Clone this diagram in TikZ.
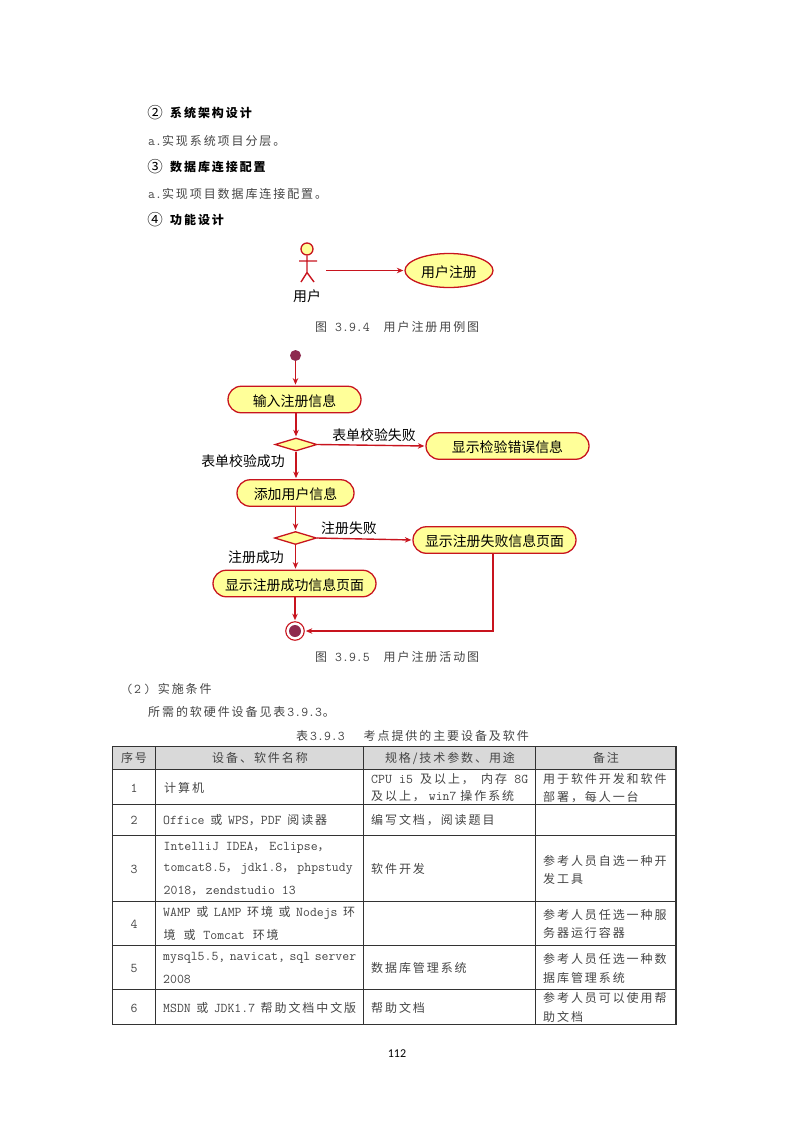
\documentclass[tikz,border=0pt]{standalone}
\usepackage{fontspec}
\setmainfont{Noto Sans CJK SC}
\newfontfamily\cjsp[LetterSpace=16]{Noto Sans CJK SC}
\newfontfamily\cjsy{Noto Sans CJK SC}
\newfontfamily\pgnum{Carlito}
\usetikzlibrary{arrows.meta,shapes.geometric,shapes.misc}
\definecolor{umlred}{HTML}{C8141E}
\definecolor{umlfill}{HTML}{FFFF99}
\definecolor{umldot}{HTML}{8E2A4E}
\definecolor{bodytx}{HTML}{444444}
\definecolor{headfill}{HTML}{D9D9D9}
\definecolor{tblline}{HTML}{333333}
\newcommand{\lat}[1]{{\fontsize{13.4}{16}\selectfont\ttfamily #1}}
\newcommand{\sq}[2]{\makebox[#1pt][s]{#2}}
\newcommand{\dn}[1]{\raisebox{-6.8pt}[0pt][0pt]{#1}}
\tikzset{
  x=1pt,y=-1pt,
  body/.style={font=\fontsize{12}{14}\selectfont\cjsp,text=bodytx,inner sep=0pt,anchor=west},
  bodyc/.style={body,anchor=center},
  head/.style={font=\fontsize{12}{14}\selectfont\bfseries\cjsp,text=black,inner sep=0pt,anchor=west},
  num/.style={font=\fontsize{15.5}{16}\selectfont\cjsy,text=black,inner sep=0pt},
  dlabel/.style={font=\fontsize{13.9}{16}\selectfont\cjsy,text=black,inner sep=0pt},
  umlbase/.style={draw=umlred,fill=umlfill,line width=1.3pt,inner sep=0pt,font=\fontsize{13.9}{16}\selectfont\cjsy,text=black},
  usecase/.style={umlbase,ellipse,minimum width=88pt,minimum height=34pt},
  activity/.style={umlbase,rounded rectangle,minimum height=26.5pt},
  decision/.style={umlbase,diamond,aspect=3.2,minimum width=42pt,minimum height=13pt},
  flow/.style={draw=umlred,line width=1.4pt,-{Stealth[length=6.5pt,width=5.5pt]},shorten >=1pt},
  grid/.style={draw=tblline,line width=1pt},
  gridthick/.style={draw=tblline,line width=1.4pt},
}
\begin{document}
\begin{tikzpicture}
\useasboundingbox (0,0) rectangle (793,1122);

% headings and body text
\node[num] (n2) at (155,113) {②};
\node[head] (h2) at (170,113) {系统架构设计};
\node[body] (a2) at (148,141) {\lat{a.}实现系统项目分层。};
\node[num] (n3) at (155,166.5) {③};
\node[head] (h3) at (170,166.5) {数据库连接配置};
\node[body] (a3) at (148,194) {\lat{a.}实现项目数据库连接配置。};
\node[num] (n4) at (155,220) {④};
\node[head] (h4) at (170,220) {功能设计};

% use case diagram
\node[circle,draw=umlred,fill=umlfill,line width=1.3pt,minimum size=12pt,inner sep=0pt] (ahead) at (307,249) {};
\coordinate (ahip) at (307,272.5);
\coordinate (aarml) at (299,261);
\coordinate (aarmr) at (317,261);
\coordinate (alegl) at (301,282);
\coordinate (alegr) at (314,282);
\coordinate (aout) at (326,270.5);
\draw[umlred,line width=1.4pt] (ahead.south) -- (ahip) (aarml) -- (aarmr) (alegl) -- (ahip) -- (alegr);
\node[dlabel] (alabel) at (307,296) {用户};
\node[usecase] (uc) at (449,270.5) {\dn{用户注册}};
\draw[flow] (aout) -- (uc.west);
\node[body] (cap4) at (315,327) {图\hspace{8pt}\lat{3.9.4}\hspace{14pt}用户注册用例图};

% activity diagram
\node[circle,fill=umldot,minimum size=11pt,inner sep=0pt] (start) at (295.5,355.5) {};
\node[activity,minimum width=133pt] (a1) at (294.5,399.5) {\dn{输入注册信息}};
\node[decision] (d1) at (296,444.5) {};
\node[activity,minimum width=163pt] (a2n) at (507.5,446) {\dn{显示检验错误信息}};
\node[activity,minimum width=117pt] (a3n) at (295.5,493) {\dn{添加用户信息}};
\node[decision] (d2) at (295.5,538) {};
\node[activity,minimum width=163pt] (a4n) at (494.5,540) {\dn{显示注册失败信息页面}};
\node[activity,minimum width=163pt] (a5n) at (294.5,583.5) {\dn{显示注册成功信息页面}};
\node[circle,draw=umlred,line width=1.1pt,fill=white,minimum size=18.5pt,inner sep=0pt] (end) at (295,631) {};
\node[circle,fill=umldot,minimum size=12pt,inner sep=0pt] (endin) at (end.center) {};
\node[dlabel] (l1) at (374,435) {表单校验失败};
\node[dlabel] (l2) at (243,461) {表单校验成功};
\node[dlabel] (l3) at (349,528) {注册失败};
\node[dlabel] (l4) at (256,557) {注册成功};
\draw[flow] (start) -- (a1.north -| start);
\draw[flow] (a1.south -| d1) -- (d1.north);
\draw[flow] (d1.east) -- (a2n.west);
\draw[flow] (d1.south) -- (a3n.north -| d1);
\draw[flow] (a3n.south) -- (d2.north);
\draw[flow] (d2.east) -- (a4n.west);
\draw[flow] (d2.south) -- (a5n.north -| d2);
\draw[flow] (a5n.south -| end) -- (end.north);
\draw[flow] (a4n.south -| 493,0) |- (end.east);
\node[body] (cap5) at (315,657) {图\hspace{8pt}\lat{3.9.5}\hspace{14pt}用户注册活动图};

% section text
\node[body] (s2) at (126,689) {\lat{(}\hspace{1pt}\lat{2}\hspace{3pt}\lat{)}\hspace{7pt}实施条件};
\node[body] (s3) at (148,712) {所需的软硬件设备见表\hspace{2pt}\lat{3.9.3}\hspace{1pt}。};
\node[body] (tcap) at (296,736) {表\hspace{2pt}\lat{3.9.3}\hspace{19pt}考点提供的主要设备及软件};

% table
\fill[headfill] (112.5,746.7) rectangle (676,769.3);
\foreach \yy in {769.3,804.3,835.7,901.7,945.7,989.7}
  \draw[grid] (112.5,\yy) -- (676,\yy);
\foreach \xx in {155.7,363.7,535.3}
  \draw[gridthick] (\xx,746.7) -- (\xx,1024.7);
\draw[gridthick] (112.5,746.7) rectangle (676,1024.7);

\node[bodyc] (t01) at (134,758) {序号};
\node[bodyc] (t02) at (260,758) {设备、软件名称};
\node[bodyc] (t03) at (450,758) {规格/技术参数、用途};
\node[bodyc] (t04) at (606,758) {备注};

\node[bodyc] (t11) at (134,788) {\lat{1}};
\node[body] (t12) at (164,788) {计算机};
\node[body] (t13a) at (371,779) {\sq{157}{\lat{CPU}\hfil\lat{i5}\hfil 及以上，\hfil 内存\hfil\lat{8G}}};
\node[body] (t13b) at (371,796.5) {\sq{143}{及以上，\hfil\lat{win7}\hfil 操作系统}};
\node[body] (t14a) at (543,778.5) {用于软件开发和软件};
\node[body] (t14b) at (543,797) {部署，每人一台};

\node[bodyc] (t21) at (134,820) {\lat{2}};
\node[body] (t22) at (163,820) {\sq{164}{\lat{Office}\hfil 或\hfil\lat{WPS}，\lat{PDF}\hfil 阅读器}};
\node[body] (t23) at (371,820) {编写文档，阅读题目};

\node[bodyc] (t31) at (134,869) {\lat{3}};
\node[body] (t32a) at (163.5,848) {\sq{166}{\lat{IntelliJ IDEA}，\hfil\lat{Eclipse}，}};
\node[body] (t32b) at (163.5,869) {\sq{189}{\lat{tomcat8.5}，\hfil\lat{jdk1.8}，\hfil\lat{phpstudy}}};
\node[body] (t32c) at (163.5,891) {\sq{132}{\lat{2018}，\hfil\lat{zendstudio 13}}};
\node[body] (t33) at (371,869) {软件开发};
\node[body] (t34a) at (543,861) {参考人员自选一种开};
\node[body] (t34b) at (543,879) {发工具};

\node[bodyc] (t41) at (134,924) {\lat{4}};
\node[body] (t42a) at (163,913) {\sq{192}{\lat{WAMP}\hfil 或\hfil\lat{LAMP}\hfil 环境\hfil 或\hfil\lat{Nodejs}\hfil 环}};
\node[body] (t42b) at (163.5,935) {\sq{115}{境\hfil 或\hfil\lat{Tomcat}\hfil 环境}};
\node[body] (t44a) at (543,915) {参考人员任选一种服};
\node[body] (t44b) at (543,933) {务器运行容器};

\node[bodyc] (t51) at (134,968) {\lat{5}};
\node[body] (t52a) at (163,958) {\sq{193}{\lat{mysql5.5,}\hfil\lat{navicat,}\hfil\lat{sql}\hfil\lat{server}}};
\node[body] (t52b) at (163,979) {\lat{2008}};
\node[body] (t53) at (371,968) {数据库管理系统};
\node[body] (t54a) at (543,959) {参考人员任选一种数};
\node[body] (t54b) at (543,978) {据库管理系统};

\node[bodyc] (t61) at (134,1008) {\lat{6}};
\node[body] (t62) at (163,1008) {\sq{193}{\lat{MSDN}\hfil 或\hfil\lat{JDK1.7}\hfil 帮助文档中文版}};
\node[body] (t63) at (371,1008) {帮助文档};
\node[body] (t64a) at (543,998) {参考人员可以使用帮};
\node[body] (t64b) at (543,1017) {助文档};

\node[font=\fontsize{12}{14}\selectfont\pgnum,text=black,inner sep=0pt] (page) at (397,1053.5) {112};
\end{tikzpicture}
\end{document}
